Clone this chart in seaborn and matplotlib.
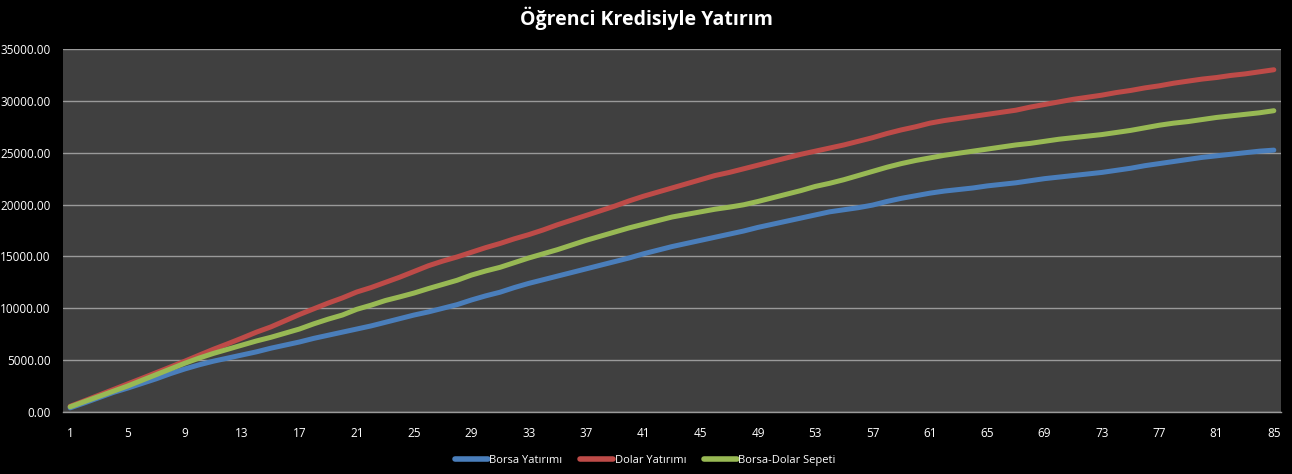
import numpy as np
import pandas as pd
import matplotlib
matplotlib.use("Agg")
import matplotlib.pyplot as plt
import seaborn as sns
from matplotlib.ticker import FormatStrFormatter

months = list(range(1, 86))

borsa = [400, 880, 1380, 1880, 2300, 2750, 3200, 3700, 4150,
         4550, 4900, 5200, 5500, 5800, 6150, 6450, 6750,
         7100, 7400, 7700, 8000, 8300, 8650, 9000, 9350,
         9650, 10000, 10350, 10800, 11200, 11550, 12000, 12400,
         12750, 13100, 13450, 13800, 14150, 14500, 14850, 15250,
         15600, 15950, 16250, 16550, 16850, 17150, 17450, 17800,
         18100, 18400, 18700, 19000, 19300, 19500, 19700, 19950,
         20300, 20600, 20850, 21100, 21300, 21450, 21600, 21800,
         21950, 22100, 22300, 22500, 22650, 22800, 22950, 23100,
         23300, 23500, 23750, 23950, 24150, 24350, 24550, 24700,
         24850, 25000, 25150, 25250]

dolar = [550, 1080, 1620, 2160, 2700, 3240, 3790, 4340, 4900,
         5480, 6050, 6580, 7130, 7700, 8200, 8800, 9400,
         9950, 10500, 11000, 11570, 12000, 12500, 13000, 13550,
         14100, 14550, 14950, 15400, 15850, 16250, 16700, 17100,
         17550, 18050, 18500, 18950, 19400, 19850, 20350, 20800,
         21200, 21600, 22000, 22400, 22800, 23100, 23450, 23800,
         24150, 24500, 24850, 25150, 25450, 25750, 26100, 26450,
         26850, 27200, 27500, 27850, 28100, 28300, 28500, 28700,
         28900, 29100, 29400, 29650, 29900, 30150, 30350, 30550,
         30800, 31000, 31250, 31450, 31700, 31900, 32100, 32250,
         32450, 32600, 32800, 33000]

sepet = [500, 1000, 1500, 2000, 2500, 3050, 3600, 4150, 4700,
         5200, 5650, 6050, 6450, 6850, 7200, 7600, 8000,
         8500, 8950, 9350, 9900, 10300, 10750, 11100, 11470,
         11900, 12300, 12700, 13200, 13600, 13950, 14400, 14850,
         15250, 15650, 16100, 16550, 16950, 17350, 17750, 18100,
         18450, 18800, 19050, 19300, 19550, 19750, 19980, 20300,
         20650, 21000, 21350, 21750, 22050, 22400, 22800, 23200,
         23600, 23950, 24250, 24500, 24750, 24950, 25150, 25350,
         25550, 25750, 25900, 26100, 26300, 26450, 26600, 26750,
         26950, 27150, 27400, 27650, 27850, 28000, 28200, 28400,
         28550, 28700, 28850, 29050]

series_names = ["Borsa Yatırımı", "Dolar Yatırımı", "Borsa-Dolar Sepeti"]
colors = ["#4A7EBB", "#BE4B48", "#98B954"]

df = pd.concat([
    pd.DataFrame({"Ay": months, "Değer": borsa, "Seri": series_names[0]}),
    pd.DataFrame({"Ay": months, "Değer": dolar, "Seri": series_names[1]}),
    pd.DataFrame({"Ay": months, "Değer": sepet, "Seri": series_names[2]}),
])

sns.set_style("dark")
plt.rcParams["font.family"] = ["Open Sans", "DejaVu Sans"]

fig = plt.figure(figsize=(12.92, 4.74), dpi=100, facecolor="black")
ax = fig.add_axes([63 / 1292, 1 - 412 / 474, (1281 - 63) / 1292, (412 - 49) / 474])
ax.set_facecolor("#404040")

sns.lineplot(data=df, x="Ay", y="Değer", hue="Seri", palette=dict(zip(series_names, colors)),
             linewidth=3.6, ax=ax, legend=True)
for ln in ax.lines:
    ln.set_solid_capstyle("round")
    ln.set_solid_joinstyle("round")

ax.set_xlim(0.5, 85.5)
ax.set_ylim(0, 35000)
ax.set_xticks(list(range(1, 86, 4)))
ax.set_yticks(list(range(0, 35001, 5000)))
ax.yaxis.set_major_formatter(FormatStrFormatter("%.2f"))
ax.grid(axis="y", color="#9A9A9A", linewidth=1.0)
ax.grid(axis="x", visible=False)
ax.set_axisbelow(True)
ax.set_xlabel("")
ax.set_ylabel("")
for s in ["top", "right", "left"]:
    ax.spines[s].set_visible(False)
ax.spines["bottom"].set_visible(True)
ax.spines["bottom"].set_color("#9A9A9A")
ax.spines["bottom"].set_linewidth(1.0)
ax.tick_params(axis="y", colors="white", labelsize=8.5, length=4, width=1, color="#9A9A9A", pad=5)
ax.tick_params(axis="x", colors="white", labelsize=8.5, length=0, pad=11)

fig.suptitle("Öğrenci Kredisiyle Yatırım", color="white", fontsize=14, fontweight="bold", y=0.985)

leg = ax.legend(loc="upper center", bbox_to_anchor=(0.478, -0.09), ncol=3, frameon=False,
                fontsize=8, handlelength=3.0, handletextpad=0.1, columnspacing=1.6)
for t in leg.get_texts():
    t.set_color("white")
for h in leg.get_lines():
    h.set_linewidth(4)

fig.savefig("out.png", dpi=100, facecolor="black")
